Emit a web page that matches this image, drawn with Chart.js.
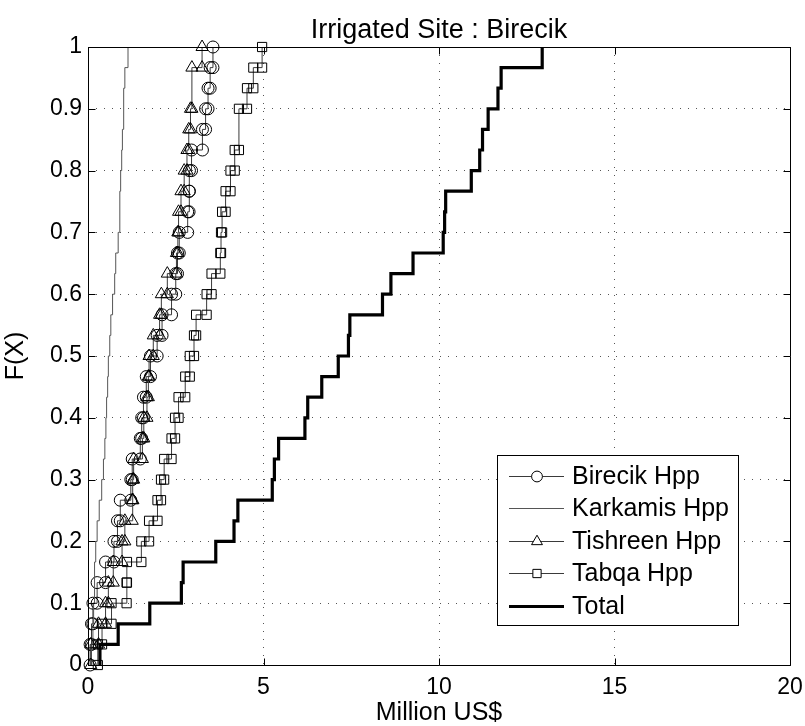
<!DOCTYPE html>
<html lang="en">
<head>
<meta charset="UTF-8">
<title>Irrigated Site : Birecik</title>
<script src="https://cdn.jsdelivr.net/npm/chart.js@4"></script>
<style>
  html, body { margin: 0; padding: 0; background: #fff; }
  canvas { display: block; }
</style>
</head>
<body>
<canvas id="cdfChart" width="805" height="726"></canvas>
<script>
// sorted samples (Million US$), 30 per series
const birecik = [0.06, 0.10, 0.14, 0.26, 0.50, 0.74, 0.84, 0.92, 1.22, 1.26,
                 1.49, 1.53, 1.58, 1.66, 1.78, 1.97, 2.11, 2.38, 2.50, 2.55,
                 2.60, 2.84, 2.88, 2.89, 2.95, 3.26, 3.35, 3.42, 3.48, 3.56];
const karkamis = [0.10, 0.14, 0.16, 0.18, 0.19, 0.22, 0.26, 0.32, 0.39, 0.44,
                  0.48, 0.51, 0.53, 0.56, 0.58, 0.62, 0.65, 0.70, 0.76, 0.79,
                  0.86, 0.90, 0.91, 0.93, 0.96, 0.98, 1.01, 1.02, 1.05, 1.14];
const tishreen = [0.08, 0.30, 0.50, 0.58, 0.72, 0.97, 1.05, 1.26, 1.28, 1.30,
                  1.55, 1.59, 1.68, 1.72, 1.74, 1.86, 2.04, 2.09, 2.26, 2.52,
                  2.56, 2.58, 2.65, 2.74, 2.82, 2.87, 2.92, 2.96, 2.96, 3.25];
const tabqa = [0.28, 0.40, 0.67, 1.10, 1.11, 1.52, 1.74, 1.98, 2.08, 2.17,
               2.38, 2.48, 2.58, 2.77, 2.90, 3.02, 3.08, 3.38, 3.52, 3.77,
               3.79, 3.82, 3.92, 4.06, 4.18, 4.30, 4.30, 4.53, 4.71, 4.96];
const total = [0.34, 0.86, 1.76, 2.66, 2.71, 3.64, 4.16, 4.27, 5.25, 5.31,
               5.43, 6.18, 6.26, 6.66, 7.13, 7.42, 7.46, 8.39, 8.63, 9.26,
               10.12, 10.16, 10.19, 10.92, 11.16, 11.24, 11.40, 11.68, 11.77, 12.94];

const xTicks = [0, 5, 10, 15, 20];
const yTicks = [0, 0.1, 0.2, 0.3, 0.4, 0.5, 0.6, 0.7, 0.8, 0.9, 1];

// staircase vertices of an empirical cdf (ties jump straight up)
function cdfSteps(vals) {
  const n = vals.length;
  const pts = [];
  vals.forEach((v, i) => {
    const last = pts[pts.length - 1];
    if (last && last.x === v) {
      last.y = (i + 1) / n;
    } else {
      pts.push({x: v, y: i / n}, {x: v, y: (i + 1) / n});
    }
  });
  return pts;
}

const FONT = "'Liberation Sans', Arial, Helvetica, sans-serif";
Chart.defaults.font.family = FONT;
Chart.defaults.color = '#000';

function series(label, vals, style, radius, color, width, order) {
  return {
    label: label,
    data: cdfSteps(vals),
    borderColor: color,
    borderWidth: width,
    pointStyle: style || 'circle',
    pointRadius: style ? radius : 0,
    pointHoverRadius: style ? radius : 0,
    pointBorderColor: '#000',
    pointBorderWidth: 1,
    pointBackgroundColor: 'rgba(0,0,0,0)',
    tension: 0,
    clip: false,
    order: order
  };
}

const frame = {
  id: 'frame',
  afterDatasetsDraw(chart) {
    const {ctx, chartArea: a, scales: {x, y}} = chart;
    const tl = 7;
    const l = Math.round(a.left) + 0.5, r = Math.round(a.right) + 0.5;
    const t = Math.round(a.top) + 0.5, b = Math.round(a.bottom) + 0.5;
    ctx.save();
    ctx.strokeStyle = '#000';
    ctx.lineWidth = 1;
    ctx.setLineDash([]);
    ctx.beginPath();
    ctx.moveTo(l, t); ctx.lineTo(r, t); ctx.lineTo(r, b); ctx.lineTo(l, b); ctx.closePath();
    x.ticks.forEach(tk => {
      const px = Math.round(x.getPixelForValue(tk.value)) + 0.5;
      ctx.moveTo(px, b); ctx.lineTo(px, b - tl);
      ctx.moveTo(px, t); ctx.lineTo(px, t + tl);
    });
    y.ticks.forEach(tk => {
      const py = Math.round(y.getPixelForValue(tk.value)) + 0.5;
      ctx.moveTo(l, py); ctx.lineTo(l + tl, py);
      ctx.moveTo(r, py); ctx.lineTo(r - tl, py);
    });
    ctx.stroke();
    ctx.restore();
  }
};

const boxLegend = {
  id: 'boxLegend',
  afterDraw(chart) {
    const ctx = chart.ctx;
    const box = {left: 497.5, top: 455.5, right: 738.5, bottom: 625.5};
    ctx.save();
    ctx.fillStyle = '#fff';
    ctx.fillRect(box.left, box.top, box.right - box.left, box.bottom - box.top);
    ctx.strokeStyle = '#000';
    ctx.lineWidth = 1;
    ctx.strokeRect(box.left, box.top, box.right - box.left, box.bottom - box.top);
    ctx.font = '25px ' + FONT;
    ctx.textBaseline = 'middle';
    ctx.textAlign = 'left';
    chart.data.datasets.forEach((ds, i) => {
      const yy = Math.round(box.top + 20 + i * 32.6) + 0.5;
      ctx.strokeStyle = ds.borderColor;
      ctx.lineWidth = ds.borderWidth;
      ctx.beginPath();
      ctx.moveTo(509, yy);
      ctx.lineTo(564, yy);
      ctx.stroke();
      if (ds.pointRadius > 0) {
        ctx.strokeStyle = '#000';
        ctx.fillStyle = '#fff';
        ctx.lineWidth = 1;
        Chart.helpers.drawPoint(ctx, {
          pointStyle: ds.pointStyle, radius: ds.pointRadius * 0.9,
          borderWidth: 1, rotation: 0
        }, 537, yy);
      }
      ctx.fillStyle = '#000';
      ctx.fillText(ds.label, 572, yy + 1);
    });
    ctx.restore();
  }
};

const ctx = document.getElementById('cdfChart').getContext('2d');
new Chart(ctx, {
  type: 'line',
  data: {
    datasets: [
      series('Birecik Hpp', birecik, 'circle', 6, '#3a3a3a', 1, 4),
      series('Karkamis Hpp', karkamis, null, 0, '#555', 1, 3),
      series('Tishreen Hpp', tishreen, 'triangle', 7, '#3a3a3a', 1, 2),
      series('Tabqa Hpp', tabqa, 'rect', 6.5, '#3a3a3a', 1, 1),
      series('Total', total, null, 0, '#000', 3.2, 0)
    ]
  },
  options: {
    responsive: false,
    animation: false,
    events: [],
    layout: { padding: { left: 0, right: 15, top: 0, bottom: 0 } },
    plugins: {
      legend: { display: false },
      tooltip: { enabled: false },
      title: {
        display: true,
        fullSize: false,
        text: 'Irrigated Site : Birecik',
        color: '#000',
        font: { size: 27, weight: 'normal', lineHeight: 1.2 },
        padding: { top: 14, bottom: 0.6 }
      }
    },
    scales: {
      x: {
        type: 'linear',
        min: 0, max: 20,
        afterBuildTicks: s => { s.ticks = xTicks.map(v => ({value: v})); },
        afterFit: s => { s.height = 61; s.paddingLeft = 0; s.paddingRight = 0; },
        ticks: { font: { size: 23 }, padding: 9, maxRotation: 0, callback: v => String(v) },
        grid: { color: '#555', lineWidth: 1, drawTicks: false },
        border: { display: false, dash: [1, 7] },
        title: { display: true, text: 'Million US$', font: { size: 25, lineHeight: 1 }, padding: { top: 0, bottom: 0 } }
      },
      y: {
        type: 'linear',
        min: 0, max: 1,
        afterBuildTicks: s => { s.ticks = yTicks.map(v => ({value: v})); },
        afterFit: s => { s.width = 88; s.paddingTop = 0; s.paddingBottom = 0; },
        ticks: { font: { size: 23 }, padding: 6, callback: v => String(Math.round(v * 10) / 10) },
        grid: { color: '#555', lineWidth: 1, drawTicks: false },
        border: { display: false, dash: [1, 7] },
        title: { display: true, text: 'F(X)', font: { size: 25, lineHeight: 1 }, padding: { top: 4, bottom: 0 } }
      }
    }
  },
  plugins: [frame, boxLegend]
});
</script>
</body>
</html>
